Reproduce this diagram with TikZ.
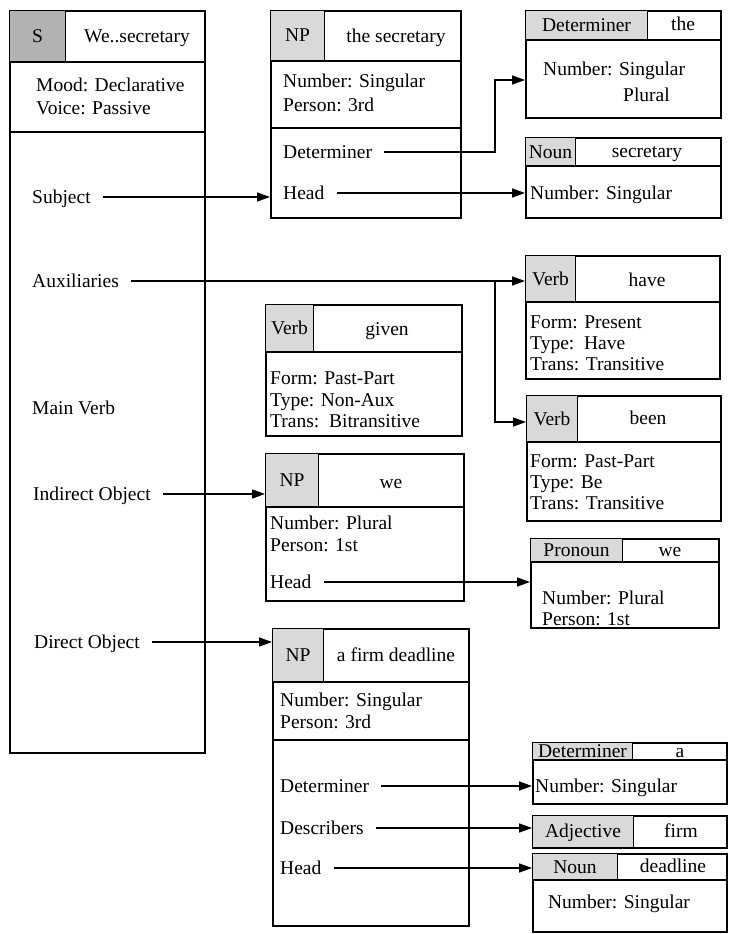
\documentclass[tikz,border=0pt]{standalone}
\usepackage{fontspec}
\setmainfont{Liberation Serif}
\usetikzlibrary{arrows.meta}
\begin{document}
\begin{tikzpicture}[x=1pt,y=-1pt,
  font=\fontsize{19.5}{22}\selectfont,
  frame/.style={draw, line width=1.8pt, anchor=north west, inner sep=0pt},
  cell/.style={draw, line width=1pt, fill=gray!30, anchor=north west, inner sep=0pt, text height=12pt, text depth=0pt},
  darkcell/.style={cell, fill=gray!60},
  div/.style={line width=1.5pt},
  lbl/.style={anchor=base west, yshift=-6pt, inner sep=0pt, text height=12pt, text depth=0pt},
  ctr/.style={anchor=base, yshift=-6pt, inner sep=0pt, text height=12pt, text depth=0pt},
  arr/.style={line width=1.5pt, -{Triangle[length=13pt,width=9pt]}, shorten <=12pt}]
\useasboundingbox (0,0) rectangle (728,934);

% ---------- S box ----------
\node[frame, minimum width=195pt, minimum height=742pt] (sbox) at (9,10) {};
\node[darkcell, minimum width=56pt, minimum height=52pt] (scell) at (9,10) {S};
\draw[div] (sbox.west |- 0,62) -- (sbox.east |- 0,62);
\draw[div] (sbox.west |- 0,132) -- (sbox.east |- 0,132);
\node[ctr] (stitle) at (137,37) {We..secretary};
\node[lbl] (smood) at (36,86) {Mood: Declarative};
\node[lbl] (svoice) at (36,108) {Voice: Passive};
\node[lbl] (ssubj) at (32,197) {Subject};
\node[lbl] (saux) at (32,281) {Auxiliaries};
\node[lbl] (smain) at (32,408) {Main Verb};
\node[lbl] (sind) at (33,494) {Indirect Object};
\node[lbl] (sdir) at (34,642) {Direct Object};

% ---------- NP the secretary ----------
\node[frame, minimum width=190pt, minimum height=207pt] (np1) at (270,10) {};
\node[cell, minimum width=54pt, minimum height=51pt] (np1cell) at (270,10) {NP};
\draw[div] (np1.west |- 0,61) -- (np1.east |- 0,61);
\draw[div] (np1.west |- 0,128) -- (np1.east |- 0,128);
\node[ctr] (np1title) at (396,37) {the secretary};
\node[lbl] (np1num) at (283,81) {Number: Singular};
\node[lbl] (np1per) at (283,105) {Person: 3rd};
\node[lbl] (np1det) at (283,152) {Determiner};
\node[lbl] (np1head) at (283,193) {Head};

% ---------- Determiner the ----------
\node[frame, minimum width=195pt, minimum height=107pt] (det1) at (525,10) {};
\node[cell, minimum width=122pt, minimum height=30pt] (det1cell) at (525,10) {Determiner};
\draw[div] (det1.west |- 0,40) -- (det1.east |- 0,40);
\node[ctr] (det1title) at (683,25) {the};
\node[lbl] (det1num) at (543,70) {Number: Singular};
\node[lbl] (det1pl) at (623,95) {Plural};

% ---------- Noun secretary ----------
\node[frame, minimum width=195pt, minimum height=80pt] (noun1) at (525,137) {};
\node[cell, minimum width=50pt, minimum height=29pt] (noun1cell) at (525,137) {Noun};
\draw[div] (noun1.west |- 0,166) -- (noun1.east |- 0,166);
\node[ctr] (noun1title) at (647,151) {secretary};
\node[lbl] (noun1num) at (530,193) {Number: Singular};

% ---------- Verb have ----------
\node[frame, minimum width=194pt, minimum height=123pt] (have) at (525,255) {};
\node[cell, minimum width=50pt, minimum height=47pt] (havecell) at (525,255) {Verb};
\draw[div] (have.west |- 0,302) -- (have.east |- 0,302);
\node[ctr] (havetitle) at (647,280) {have};
\node[lbl] (havef) at (530,322) {Form: Present};
\node[lbl] (havet) at (530,343) {Type:\ \ Have};
\node[lbl] (havetr) at (530,364) {Trans: Transitive};

% ---------- Verb been ----------
\node[frame, minimum width=194pt, minimum height=125pt] (been) at (526,395) {};
\node[cell, minimum width=51pt, minimum height=47pt] (beencell) at (526,395) {Verb};
\draw[div] (been.west |- 0,442) -- (been.east |- 0,442);
\node[ctr] (beentitle) at (648,418) {been};
\node[lbl] (beenf) at (530,461) {Form: Past-Part};
\node[lbl] (beent) at (530,482) {Type: Be};
\node[lbl] (beentr) at (530,503) {Trans: Transitive};

% ---------- Verb given ----------
\node[frame, minimum width=196pt, minimum height=131pt] (given) at (265,304) {};
\node[cell, minimum width=48pt, minimum height=48pt] (givencell) at (265,304) {Verb};
\draw[div] (given.west |- 0,352) -- (given.east |- 0,352);
\node[ctr] (giventitle) at (387,329) {given};
\node[lbl] (givenf) at (270,378) {Form: Past-Part};
\node[lbl] (givent) at (270,400) {Type: Non-Aux};
\node[lbl] (giventr) at (270,421) {Trans:\ \ Bitransitive};

% ---------- NP we ----------
\node[frame, minimum width=198pt, minimum height=147pt] (npwe) at (265,453) {};
\node[cell, minimum width=53pt, minimum height=54pt] (npwecell) at (265,453) {NP};
\draw[div] (npwe.west |- 0,507) -- (npwe.east |- 0,507);
\node[ctr] (npwetitle) at (391,482) {we};
\node[lbl] (npwenum) at (270,523) {Number: Plural};
\node[lbl] (npweper) at (270,545) {Person: 1st};
\node[lbl] (npwehead) at (270,582) {Head};

% ---------- Pronoun we ----------
\node[frame, minimum width=188pt, minimum height=89pt] (pron) at (530,538) {};
\node[cell, minimum width=92pt, minimum height=24pt] (proncell) at (530,538) {Pronoun};
\draw[div] (pron.west |- 0,562) -- (pron.east |- 0,562);
\node[ctr] (prontitle) at (670,550) {we};
\node[lbl] (pronnum) at (542,598) {Number: Plural};
\node[lbl] (pronper) at (542,619) {Person: 1st};

% ---------- NP a firm deadline ----------
\node[frame, minimum width=196pt, minimum height=297pt] (np3) at (272,628) {};
\node[cell, minimum width=51pt, minimum height=54pt] (np3cell) at (272,628) {NP};
\draw[div] (np3.west |- 0,682) -- (np3.east |- 0,682);
\draw[div] (np3.west |- 0,740) -- (np3.east |- 0,740);
\node[ctr] (np3title) at (396,655) {a firm deadline};
\node[lbl] (np3num) at (280,700) {Number: Singular};
\node[lbl] (np3per) at (280,722) {Person: 3rd};
\node[lbl] (np3det) at (280,786) {Determiner};
\node[lbl] (np3desc) at (280,828) {Describers};
\node[lbl] (np3head) at (280,868) {Head};

% ---------- Determiner a ----------
\node[frame, minimum width=194pt, minimum height=61pt] (deta) at (532,742) {};
\node[cell, minimum width=100pt, minimum height=18pt] (detacell) at (532,742) {Determiner};
\draw[div] (deta.west |- 0,760) -- (deta.east |- 0,760);
\node[ctr] (detatitle) at (680,751) {a};
\node[lbl] (detanum) at (535,786) {Number: Singular};

% ---------- Adjective firm ----------
\node[frame, minimum width=194pt, minimum height=32pt] (adj) at (532,815) {};
\node[cell, minimum width=101pt, minimum height=32pt] (adjcell) at (532,815) {Adjective};
\node[ctr] (adjtitle) at (681,831) {firm};

% ---------- Noun deadline ----------
\node[frame, minimum width=194pt, minimum height=78pt] (noun3) at (532,853) {};
\node[cell, minimum width=85pt, minimum height=27pt] (noun3cell) at (532,853) {Noun};
\draw[div] (noun3.west |- 0,880) -- (noun3.east |- 0,880);
\node[ctr] (noun3title) at (673,866) {deadline};
\node[ctr] (noun3num) at (619,902) {Number: Singular};

% ---------- connectors ----------
\coordinate (bendx) at (495,0);
\coordinate (det1in) at (0,80);
\coordinate (beenin) at (0,422);

\draw[arr] (ssubj.east) -- (ssubj.east -| np1.west);
\draw[arr] (saux.east) -- (saux.east -| have.west);
\draw[line width=1.5pt, -{Triangle[length=13pt,width=9pt]}] (saux.east -| bendx) -- (bendx |- beenin) -- (beenin -| been.west);
\draw[arr] (sind.east) -- (sind.east -| npwe.west);
\draw[arr] (sdir.east) -- (sdir.east -| np3.west);

\draw[arr] (np1det.east) -- (np1det.east -| bendx) -- (bendx |- det1in) -- (det1in -| det1.west);
\draw[arr] (np1head.east) -- (np1head.east -| noun1.west);
\draw[arr] (npwehead.east) -- (npwehead.east -| pron.west);
\draw[arr] (np3det.east) -- (np3det.east -| deta.west);
\draw[arr] (np3desc.east) -- (np3desc.east -| adj.west);
\draw[arr] (np3head.east) -- (np3head.east -| noun3.west);
\end{tikzpicture}
\end{document}
